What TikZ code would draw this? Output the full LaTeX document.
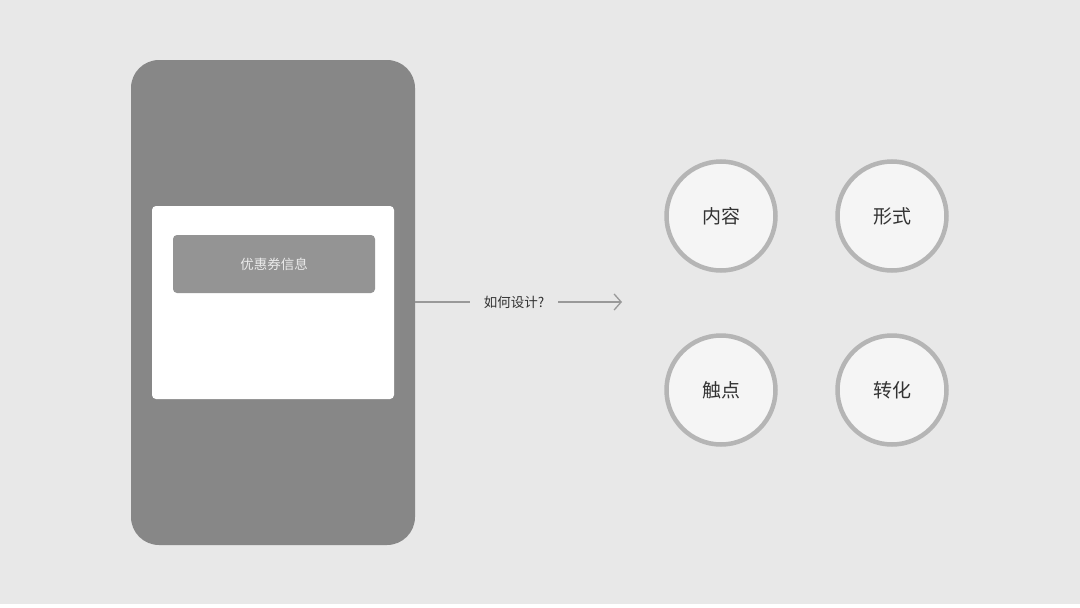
\documentclass[tikz,border=0pt]{standalone}
\usepackage{fontspec}
\setmainfont{Noto Sans CJK SC}
\usetikzlibrary{arrows.meta}
\definecolor{bg}{HTML}{E8E8E8}
\definecolor{phone}{HTML}{878787}
\definecolor{btn}{HTML}{949494}
\definecolor{ring}{HTML}{B5B5B5}
\definecolor{disc}{HTML}{F5F5F5}
\definecolor{ink}{HTML}{333333}
\definecolor{arr}{HTML}{999999}
\tikzset{
  topic/.style={circle, draw=ring, line width=4.5pt, fill=disc, minimum size=109pt, inner sep=0pt, text=ink, font=\fontsize{19pt}{21pt}\selectfont},
  conn/.style={draw=arr, line width=1.3pt}
}
\begin{document}
\begin{tikzpicture}[x=1pt,y=-1pt]
\fill[bg] (0,0) rectangle (1080,608);
\fill[white] (0,604) rectangle (1080,608);
\useasboundingbox (0,0) rectangle (1080,608);
\node[fill=phone, rounded corners=28pt, minimum width=284pt, minimum height=485pt, inner sep=0pt] (phone) at (273,302.5) {};
\node[fill=white, rounded corners=4pt, minimum width=242pt, minimum height=193pt, inner sep=0pt] (card) at (273,302.5) {};
\node[fill=btn, rounded corners=4pt, minimum width=202pt, minimum height=58pt, inner sep=0pt, text=white!92!black, font=\fontsize{13.5pt}{15pt}\selectfont] (coupon) at (274,264) {优惠券信息};
\node[text=ink, font=\fontsize{13.5pt}{15pt}\selectfont, inner sep=0pt] (q) at (514,302) {如何设计?};
\coordinate (tip) at (622,302);
\draw[conn] (phone.east |- q) -- ([xshift=-14pt]q.west);
\draw[conn, -{Straight Barb[length=7pt,width=16pt]}] ([xshift=14pt]q.east) -- (tip);
\node[topic] (c1) at (721,216) {内容};
\node[topic] (c2) at (892,216) {形式};
\node[topic] (c3) at (721,390) {触点};
\node[topic] (c4) at (892,390) {转化};
\end{tikzpicture}
\end{document}
